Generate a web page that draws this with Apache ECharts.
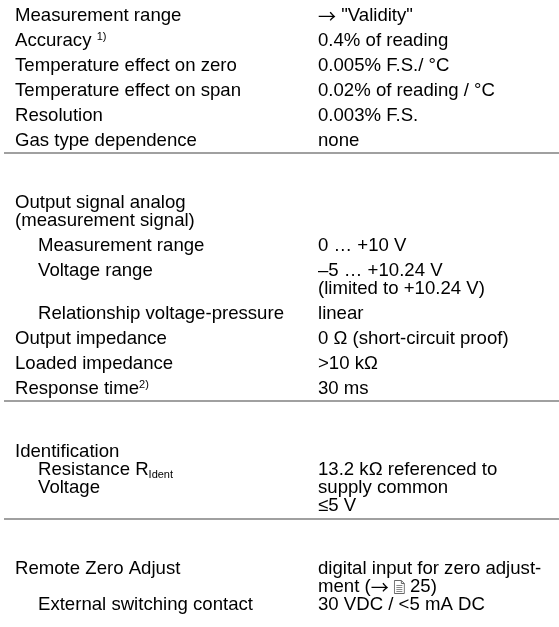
<!DOCTYPE html>
<html><head><meta charset="utf-8">
<script src="https://cdn.jsdelivr.net/npm/echarts@6/dist/echarts.min.js"></script>
<style>html,body{margin:0;padding:0;background:#fff}#c{width:559px;height:627px}</style>
</head><body><div id="c"></div>
<script>
// Spec table content (text only)
const block1Labels = ['Measurement range', 'Accuracy {sup|1)}', 'Temperature effect on zero', 'Temperature effect on span', 'Resolution', 'Gas type dependence'];
const block1Values = ['{arr|\u2192} "Validity"', '0.4% of reading', '0.005% F.S./ \u00b0C', '0.02% of reading / \u00b0C', '0.003% F.S.', 'none'];

const block2Heading = ['Output signal analog', '(measurement signal)'];
const block2SubLabels = ['Measurement range', 'Voltage range', 'Relationship voltage-pressure'];
const block2SubValues = [['0 \u2026 +10 V'], ['\u20135 \u2026 +10.24 V', '(limited to +10.24 V)'], ['linear']];
const block2Labels = ['Output impedance', 'Loaded impedance', 'Response time{sup|2)}'];
const block2Values = ['0 \u03a9 (short-circuit proof)', '>10 k\u03a9', '30 ms'];

const block3Heading = ['Identification'];
const block3SubLabels = ['Resistance R{sub|Ident}', 'Voltage'];
const block3Values = ['13.2 k\u03a9 referenced to', 'supply common', '\u22645 V'];

const block4Label = ['Remote Zero Adjust'];
const block4SubLabel = ['External switching contact'];
const block4Values = ['digital input for zero adjust-', 'ment ({arr|\u2192} {doc|} 25)', '30 VDC / <5 mA DC'];

// ---- layout ----
const FS = 18.6, FAM = '"Liberation Sans", Arial, sans-serif';
const XL = 15, XI = 38, XR = 318;
const ROW = 25, SUB = 18;
const docSvg = 'data:image/svg+xml;utf8,' + encodeURIComponent(
  '<svg xmlns="http://www.w3.org/2000/svg" width="11" height="14" viewBox="0 0 11 14">' +
  '<path d="M0.5 0.5 H7.5 L10.5 3.5 V13.5 H0.5 Z" fill="#fff" stroke="#666" stroke-width="1"/>' +
  '<path d="M7.5 0.5 V3.5 H10.5" fill="none" stroke="#666" stroke-width="1"/>' +
  '<path d="M2.5 5.5 H8.5 M2.5 7.5 H8.5 M2.5 9.5 H8.5 M2.5 11.5 H8.5" stroke="#888" stroke-width="1"/></svg>');
const rich = {
  sup: { fontSize: 11, fontFamily: FAM, color: '#000', verticalAlign: 'top', lineHeight: 12 },
  sub: { fontSize: 11, fontFamily: FAM, color: '#000', verticalAlign: 'bottom', lineHeight: 12 },
  arr: { fontSize: 18, fontFamily: '"Noto Sans CJK SC", sans-serif', color: '#000', lineHeight: 20 },
  doc: { width: 11, height: 14, backgroundColor: { image: docSvg } }
};
const els = [];
function txt(x, y, s) {
  els.push({ type: 'text', x: x, y: y, silent: true,
    style: { text: s, fontSize: FS, fontFamily: FAM, fill: '#000', verticalAlign: 'middle', rich: rich, lineHeight: 20 } });
}
function rule(y) {
  els.push({ type: 'line', silent: true, shape: { x1: 4, y1: y, x2: 559, y2: y }, style: { stroke: '#808080', lineWidth: 1.5 } });
}

let y = 16;
block1Labels.forEach((l, i) => { txt(XL, y, l); txt(XR, y, block1Values[i]); y += ROW; });
rule(y - ROW + 12);

y = 203;
txt(XL, y, block2Heading[0]); y += SUB;
txt(XL, y, block2Heading[1]); y += ROW;
block2SubLabels.forEach((l, i) => {
  txt(XI, y, l);
  block2SubValues[i].forEach((v, j) => { txt(XR, y + j * SUB, v); });
  y += ROW + (block2SubValues[i].length - 1) * SUB;
});
block2Labels.forEach((l, i) => { txt(XL, y, l); txt(XR, y, block2Values[i]); y += ROW; });
rule(y - ROW + 12);

y = 452;
txt(XL, y, block3Heading[0]); y += SUB;
block3SubLabels.forEach((l, i) => { txt(XI, y + i * SUB, l); });
block3Values.forEach((v, i) => { txt(XR, y + i * SUB, v); });
rule(y + 2 * SUB + 13);

y = 569;
txt(XL, y, block4Label[0]);
block4Values.forEach((v, i) => { txt(XR, y + i * SUB, v); });
txt(XI, y + 2 * SUB, block4SubLabel[0]);

const chart = echarts.init(document.getElementById('c'), null, { renderer: 'canvas' });
chart.setOption({ backgroundColor: '#fff', animation: false, graphic: { elements: els } });
</script></body></html>
